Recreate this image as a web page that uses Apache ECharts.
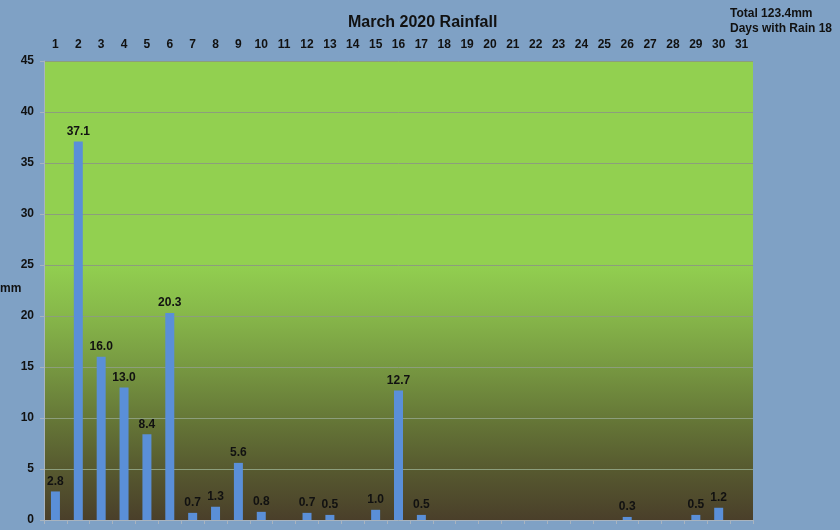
<!DOCTYPE html>
<html><head><meta charset="utf-8">
<script src="https://cdn.jsdelivr.net/npm/echarts@6/dist/echarts.min.js"></script>
<style>html,body{margin:0;padding:0;background:#7fa1c5}#c{width:840px;height:530px}</style>
</head><body><div id="c"></div>
<script>
const days = ['1','2','3','4','5','6','7','8','9','10','11','12','13','14','15','16','17','18','19','20','21','22','23','24','25','26','27','28','29','30','31'];
const rainfall = [2.8,37.1,16.0,13.0,8.4,20.3,0.7,1.3,5.6,0.8,0,0.7,0.5,0,1.0,12.7,0.5,0,0,0,0,0,0,0,0,0.3,0,0,0.5,1.2,0];
const yTicks = [0,5,10,15,20,25,30,35,40,45];
const titleText = 'March 2020 Rainfall';
const infoText = 'Total 123.4mm\nDays with Rain 18';
const yName = 'mm';

const chart = echarts.init(document.getElementById('c'));
chart.setOption({
  backgroundColor: '#7fa1c5',
  animation: false,
  title: {text: titleText, left: 343, top: 10,
    textStyle: {fontFamily: 'Liberation Sans Narrow, Liberation Sans, Arial', fontWeight: 'bold', fontSize: 16, color: '#111'}},
  graphic: [
    {type: 'text', left: 730, top: 6, style: {text: infoText, fontFamily: 'Liberation Sans Narrow, Liberation Sans, Arial', fontWeight: 'bold', fontSize: 12, lineHeight: 15, fill: '#111'}},
    {type: 'text', left: 0, top: 283, style: {text: yName, fontFamily: 'Liberation Sans, Arial', fontWeight: 'bold', fontSize: 12, fill: '#111'}}
  ],
  grid: {left: 44, right: 87, top: 61, bottom: 10, show: true, borderWidth: 0,
    backgroundColor: {type: 'linear', x: 0, y: 0, x2: 0, y2: 1, colorStops: [
      {offset: 0, color: '#92d050'}, {offset: 0.44, color: '#92d050'}, {offset: 0.55, color: '#87b84a'},
      {offset: 0.66, color: '#789a42'}, {offset: 0.77, color: '#677a38'}, {offset: 0.88, color: '#585c30'},
      {offset: 1, color: '#4a3f2a'}]}},
  xAxis: [
    {type: 'category', data: days, position: 'top', axisLine: {show: false}, axisTick: {show: false},
      axisLabel: {color: '#111', fontWeight: 'bold', fontSize: 12, fontFamily: 'Liberation Sans, Arial', margin: 10}},
    {type: 'category', data: days, position: 'bottom', axisLine: {show: true, lineStyle: {color: '#a9b4bf'}},
      axisTick: {show: true, length: 4, lineStyle: {color: '#a9b4bf'}}, axisLabel: {show: false}}
  ],
  yAxis: {type: 'value', min: 0, max: 45, interval: 5,
    axisLine: {show: true, lineStyle: {color: '#a9b4bf'}},
    axisTick: {show: true, length: 4, lineStyle: {color: '#a9b4bf'}},
    axisLabel: {color: '#111', fontWeight: 'bold', fontSize: 12, fontFamily: 'Liberation Sans, Arial', margin: 10,
      formatter: v => yTicks.includes(v) ? String(v) : ''},
    splitLine: {lineStyle: {color: '#8c9e7c', width: 1}}},
  series: [{type: 'bar', xAxisIndex: 1, data: rainfall, barWidth: 9,
    itemStyle: {color: '#5a8fd8'},
    label: {show: true, position: 'top', distance: 4, color: '#111', fontWeight: 'bold', fontSize: 12,
      fontFamily: 'Liberation Sans, Arial',
      formatter: p => p.value > 0 ? p.value.toFixed(1) : ''}}]
});
</script></body></html>
